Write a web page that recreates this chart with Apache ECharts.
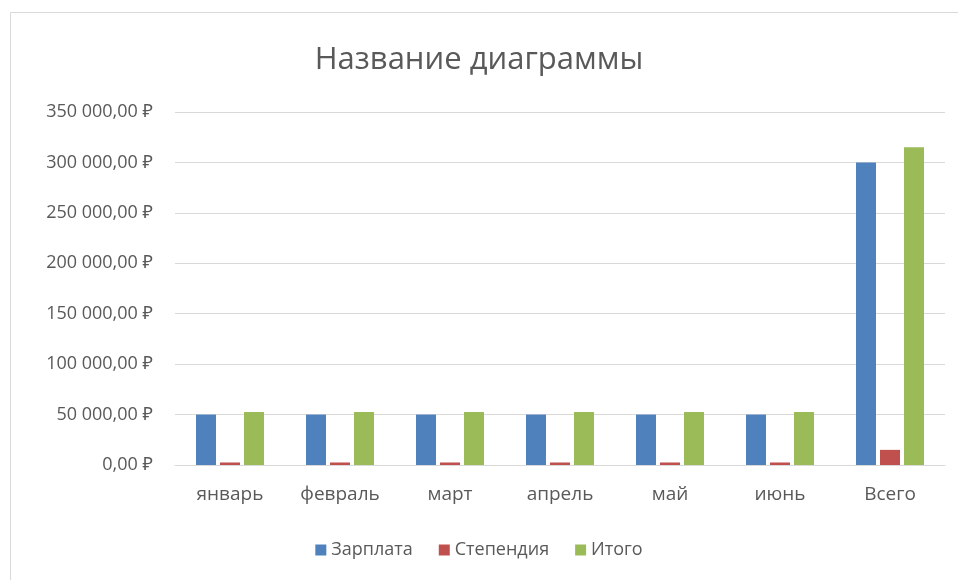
<!DOCTYPE html>
<html><head><meta charset="utf-8">
<script src="https://cdn.jsdelivr.net/npm/echarts@6/dist/echarts.min.js"></script>
<style>html,body{margin:0;padding:0;background:#fff}#c{width:958px;height:580px}</style>
</head><body><div id="c"></div>
<script>
const categories = ['январь','февраль','март','апрель','май','июнь','Всего'];
const salary = [50000,50000,50000,50000,50000,50000,300000];
const stipend = [2500,2500,2500,2500,2500,2500,15000];
const total = [52500,52500,52500,52500,52500,52500,315000];
const seriesNames = ['Зарплата','Степендия','Итого'];
const colors = ['#4F81BD','#C0504D','#9BBB59'];

function fmt(v){
  const s = String(Math.round(v)).replace(/\B(?=(\d{3})+(?!\d))/g,' ');
  return s + ',00 ₽';
}
const chart = echarts.init(document.getElementById('c'));
const font = '"Open Sans", "Noto Sans", sans-serif';
chart.setOption({
  animation:false,
  textStyle:{fontFamily:font},
  graphic:[{type:'rect',shape:{x:10.5,y:12.5,width:960,height:580},style:{fill:'none',stroke:'#d9d9d9',lineWidth:1}}],
  title:{text:'Название диаграммы',left:'center',top:40,textStyle:{fontFamily:font,fontSize:31,fontWeight:'normal',color:'#595959'}},
  legend:{bottom:16,left:'center',itemWidth:11,itemHeight:11,itemGap:26,icon:'rect',textStyle:{fontFamily:font,fontSize:18,color:'#595959'},data:seriesNames},
  grid:{left:175,right:13,top:112,bottom:115},
  xAxis:{type:'category',data:categories,axisTick:{show:false},axisLine:{lineStyle:{color:'#d9d9d9'}},
    axisLabel:{color:'#595959',fontSize:19,margin:20,fontFamily:font}},
  yAxis:{type:'value',min:0,max:350000,interval:50000,axisLine:{show:false},axisTick:{show:false},
    splitLine:{lineStyle:{color:'#d9d9d9'}},
    axisLabel:{formatter:fmt,color:'#595959',fontSize:18,margin:22,fontFamily:font}},
  series:[
    {name:seriesNames[0],type:'bar',data:salary,itemStyle:{color:colors[0]},barWidth:20,barGap:'20%'},
    {name:seriesNames[1],type:'bar',data:stipend,itemStyle:{color:colors[1]},barWidth:20,barGap:'20%'},
    {name:seriesNames[2],type:'bar',data:total,itemStyle:{color:colors[2]},barWidth:20,barGap:'20%'}
  ]
});
</script></body></html>
